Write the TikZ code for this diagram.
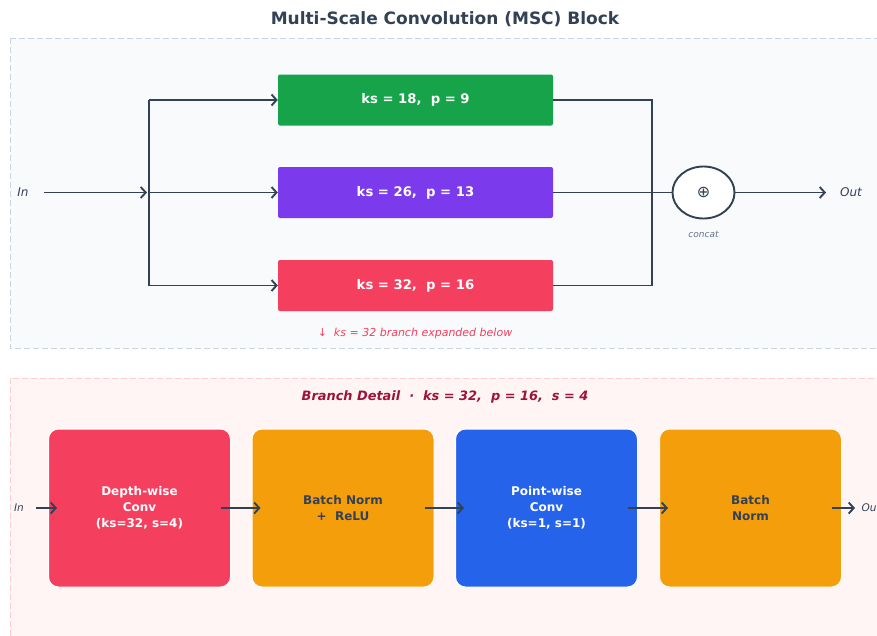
\documentclass[tikz,border=0pt]{standalone}
\usepackage{fontspec}
\setmainfont{DejaVu Sans}
\usetikzlibrary{arrows.meta,calc,shapes.geometric}

\definecolor{ink}{HTML}{334155}
\definecolor{muted}{HTML}{64748B}
\definecolor{panelA}{HTML}{F8FAFC}
\definecolor{edgeA}{HTML}{CBD5E1}
\definecolor{panelB}{HTML}{FFF5F5}
\definecolor{edgeB}{HTML}{FECDD3}
\definecolor{kgreen}{HTML}{16A34A}
\definecolor{kpurple}{HTML}{7C3AED}
\definecolor{krose}{HTML}{F43F5E}
\definecolor{kamber}{HTML}{F59E0B}
\definecolor{kblue}{HTML}{2563EB}
\definecolor{kwine}{HTML}{9F1239}

\begin{document}
\begin{tikzpicture}[x=1pt,y=-1pt,
    line/.style={draw=ink,line width=1.9pt},
    arr/.style={line,-{Straight Barb[length=5pt,width=11pt,line width=1.9pt]}},
    branch/.style={rounded corners=2pt,minimum width=275pt,minimum height=51pt,
        inner sep=0pt,text=white,font=\bfseries\fontsize{13.2}{15}\selectfont},
    stage/.style={rounded corners=10pt,draw=white,line width=1pt,minimum width=182pt,
        minimum height=158pt,inner sep=0pt,align=center,
        font=\bfseries\fontsize{12}{16}\selectfont},
    tag/.style={text=ink,font=\itshape\fontsize{12}{14}\selectfont},
    panel/.style={dashed,line width=1pt,dash pattern=on 6pt off 3pt}]
    \useasboundingbox (0,0) rectangle (877,635);

    % title
    \node[text=ink,font=\bfseries\fontsize{17}{19}\selectfont] (title) at (445,19) {Multi-Scale Convolution (MSC) Block};

    % upper panel: three parallel kernels
    \draw[panel,draw=edgeA,fill=panelA] (10,38) rectangle (882,348);

    \node[branch,fill=kgreen] (k18) at (415.5,100) {ks = 18,\ \ p = 9};
    \node[branch,fill=kpurple] (k26) at (415.5,192.5) {ks = 26,\ \ p = 13};
    \node[branch,fill=krose] (k32) at (415.5,285.5) {ks = 32,\ \ p = 16};

    \node[tag] (in) at (23,192.5) {In};
    \coordinate (src) at (44,192.5);
    \coordinate (s1) at (149,100);
    \coordinate (s2) at (149,192.5);
    \coordinate (s3) at (149,285.5);
    \draw[arr,shorten >=2pt] (src) -- (s2);
    \draw[line] (s1) -- (s3);
    \draw[arr] (s1) -- (k18.west);
    \draw[arr] (s2) -- (k26.west);
    \draw[arr] (s3) -- (k32.west);

    \node[ellipse,draw=ink,fill=white,line width=1.9pt,minimum width=62pt,minimum height=52pt,inner sep=0pt,
        font=\fontsize{16}{16}\selectfont,text=ink] (cat) at (703.5,192.5) {⊕};
    \node[text=muted,font=\itshape\fontsize{9}{10}\selectfont] (catlbl) at (703.5,234) {concat};

    \coordinate (m1) at (652,100);
    \coordinate (m3) at (652,285.5);
    \draw[line] (k18.east) -- (m1) -- (m3) -- (k32.east);
    \draw[line] (k26.east) -- (cat.west);

    \coordinate (dst) at (826,192.5);
    \draw[arr] (cat.east) -- (dst);
    \node[tag] (out) at (851,192.5) {Out};

    \node[text=krose,font=\itshape\fontsize{11}{12}\selectfont] (note) at (415,333) {↓\ \ ks = 32 branch expanded below};

    % lower panel: inside the ks = 32 branch
    \draw[panel,draw=edgeB,fill=panelB] (10,378) rectangle (882,640);

    \node[text=kwine,font=\bfseries\itshape\fontsize{12.9}{14}\selectfont] (detail) at (445,397)
        {Branch Detail\ \ ·\ \ ks = 32,\ \ p = 16,\ \ s = 4};

    \node[stage,fill=krose,text=white] (dw) at (139.5,508) {Depth-wise\\Conv\\(ks=32, s=4)};
    \node[stage,fill=kamber,text=ink] (bn1) at (343,508) {Batch Norm\\+\ \ ReLU};
    \node[stage,fill=kblue,text=white] (pw) at (546.5,508) {Point-wise\\Conv\\(ks=1, s=1)};
    \node[stage,fill=kamber,text=ink] (bn2) at (750.5,508) {Batch\\Norm};

    \node[tag,font=\itshape\fontsize{10.5}{12}\selectfont] (in2) at (19,508) {In};
    \node[tag,font=\itshape\fontsize{10.5}{12}\selectfont,anchor=west] (out2) at (858,508) {Out};
    \coordinate (src2) at (36,508);
    \coordinate (dst2) at (855,508);

    \draw[arr] (src2) -- ($(dw.west)+(9,0)$);
    \draw[arr] ($(dw.east)+(-10,0)$) -- ($(bn1.west)+(9,0)$);
    \draw[arr] ($(bn1.east)+(-10,0)$) -- ($(pw.west)+(9,0)$);
    \draw[arr] ($(pw.east)+(-10,0)$) -- ($(bn2.west)+(9,0)$);
    \draw[arr] ($(bn2.east)+(-10,0)$) -- (dst2);
\end{tikzpicture}
\end{document}
